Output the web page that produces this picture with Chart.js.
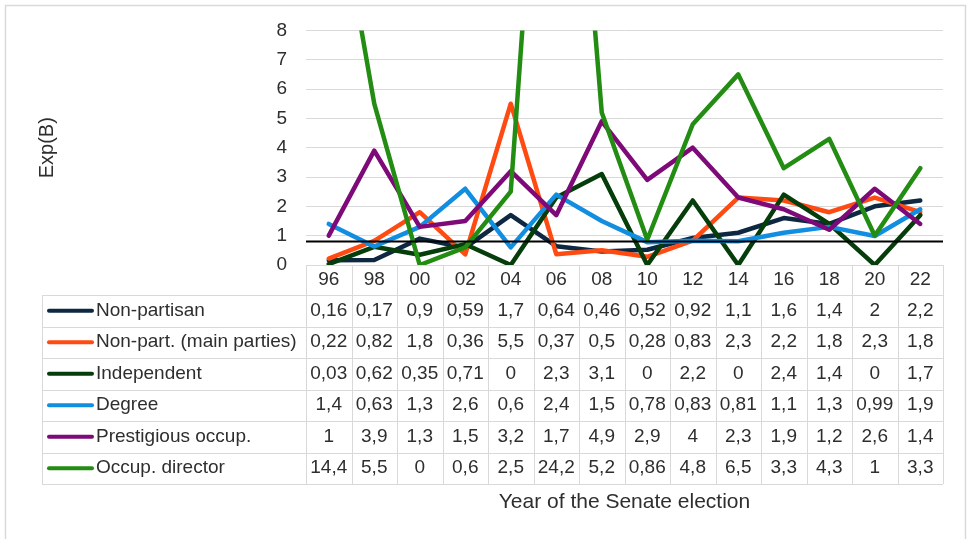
<!DOCTYPE html>
<html>
<head>
<meta charset="utf-8">
<script src="https://cdn.jsdelivr.net/npm/chart.js@4.4.1/dist/chart.umd.min.js"></script>
<style>
  html, body { margin: 0; padding: 0; background: #ffffff; }
  canvas { display: block; }
</style>
</head>
<body>
<canvas id="chart" width="967" height="539"></canvas>
<script>
// Election years (two-digit labels)
const years = ['96', '98', '00', '02', '04', '06', '08', '10', '12', '14', '16', '18', '20', '22'];

// Exp(B) per year for each variable
const nonPartisan   = [0.16, 0.17, 0.9, 0.59, 1.7, 0.64, 0.46, 0.52, 0.92, 1.1, 1.6, 1.4, 2, 2.2];
const nonPartMain   = [0.22, 0.82, 1.8, 0.36, 5.5, 0.37, 0.5, 0.28, 0.83, 2.3, 2.2, 1.8, 2.3, 1.8];
const independent   = [0.03, 0.62, 0.35, 0.71, 0, 2.3, 3.1, 0, 2.2, 0, 2.4, 1.4, 0, 1.7];
const degree        = [1.4, 0.63, 1.3, 2.6, 0.6, 2.4, 1.5, 0.78, 0.83, 0.81, 1.1, 1.3, 0.99, 1.9];
const prestigious   = [1, 3.9, 1.3, 1.5, 3.2, 1.7, 4.9, 2.9, 4, 2.3, 1.9, 1.2, 2.6, 1.4];
const occupDirector = [14.4, 5.5, 0, 0.6, 2.5, 24.2, 5.2, 0.86, 4.8, 6.5, 3.3, 4.3, 1, 3.3];

const seriesNames = ['Non-partisan', 'Non-part. (main parties)', 'Independent', 'Degree', 'Prestigious occup.', 'Occup. director'];
const seriesValues = [nonPartisan, nonPartMain, independent, degree, prestigious, occupDirector];

// Value axis range and the reference level drawn as a black rule
const yMin = 0;
const yMax = 8;
const yStep = 1;
const referenceLevel = 0.8;

// ---- styling ----
const seriesColors = ['#0e2841', '#ff4a12', '#053d0b', '#128ee0', '#7d0a78', '#238c12'];
const FONT = "'Liberation Sans', Arial, sans-serif";
const TEXT = '#2e2e2e';
const GRID = '#d9d9d9';
const TEXT_SIZE = 19;

// ---- layout (pixels) ----
const LAYOUT_LEFT = 35;
const PLOT_LEFT = 306;
const PLOT_TOP = 29;
const PLOT_RIGHT = 943;
const PLOT_BOTTOM = 265;
const TABLE_LEFT = 42;
const HEADER_BOTTOM = 295;
const ROW_H = 31.5;

const fmt = v => String(v).replace('.', ',');

// Page frame behind the chart
const framePlugin = {
  id: 'frame',
  beforeDraw(chart) {
    const ctx = chart.ctx;
    ctx.save();
    ctx.fillStyle = '#ffffff';
    ctx.fillRect(0, 0, chart.width, chart.height);
    ctx.strokeStyle = '#d9d9d9';
    ctx.lineWidth = 1.5;
    ctx.strokeRect(5.5, 5.5, 960, chart.height + 20);
    ctx.restore();
  }
};

// Black reference rule across the plot
const referencePlugin = {
  id: 'referenceRule',
  afterDatasetsDraw(chart) {
    const { ctx, chartArea, scales } = chart;
    const y = scales.y.getPixelForValue(referenceLevel);
    ctx.save();
    ctx.strokeStyle = '#000000';
    ctx.lineWidth = 2;
    ctx.beginPath();
    ctx.moveTo(chartArea.left, y);
    ctx.lineTo(chartArea.right, y);
    ctx.stroke();
    ctx.restore();
  }
};

// Data table under the plot, aligned to the category axis
const tablePlugin = {
  id: 'dataTable',
  afterDraw(chart) {
    const { ctx, chartArea, scales } = chart;
    const x = scales.x;
    const half = (x.getPixelForValue(1) - x.getPixelForValue(0)) / 2;
    const top = chartArea.bottom;
    const rows = seriesNames.length;
    const bottom = HEADER_BOTTOM + rows * ROW_H;
    const crisp = v => Math.round(v) + 0.5;

    ctx.save();
    ctx.strokeStyle = GRID;
    ctx.lineWidth = 1;
    ctx.beginPath();
    // horizontal rules
    ctx.moveTo(chartArea.left, crisp(top));
    ctx.lineTo(chartArea.right, crisp(top));
    for (let r = 0; r <= rows; r++) {
      const yy = crisp(HEADER_BOTTOM + r * ROW_H);
      ctx.moveTo(TABLE_LEFT, yy);
      ctx.lineTo(chartArea.right, yy);
    }
    // vertical rules
    ctx.moveTo(crisp(TABLE_LEFT), HEADER_BOTTOM);
    ctx.lineTo(crisp(TABLE_LEFT), bottom);
    for (let i = 0; i <= years.length; i++) {
      const xx = crisp(x.getPixelForValue(0) - half + i * 2 * half);
      ctx.moveTo(xx, top);
      ctx.lineTo(xx, bottom);
    }
    ctx.stroke();

    ctx.font = TEXT_SIZE + 'px ' + FONT;
    ctx.textBaseline = 'middle';
    seriesNames.forEach((name, r) => {
      const cy = HEADER_BOTTOM + (r + 0.5) * ROW_H;
      // legend key
      ctx.strokeStyle = seriesColors[r];
      ctx.lineWidth = 4;
      ctx.lineCap = 'round';
      ctx.beginPath();
      ctx.moveTo(49, cy);
      ctx.lineTo(92, cy);
      ctx.stroke();
      ctx.fillStyle = TEXT;
      ctx.textAlign = 'left';
      ctx.fillText(name, 96, cy);
      // values
      ctx.textAlign = 'center';
      seriesValues[r].forEach((v, i) => {
        ctx.fillText(fmt(v), x.getPixelForValue(i), cy);
      });
    });
    ctx.restore();
  }
};

new Chart(document.getElementById('chart'), {
  type: 'line',
  data: {
    labels: years,
    datasets: seriesNames.map((name, i) => ({
      label: name,
      data: seriesValues[i],
      borderColor: seriesColors[i],
      backgroundColor: seriesColors[i],
      borderWidth: 4.5,
      borderJoinStyle: 'round',
      borderCapStyle: 'round',
      pointRadius: 0,
      tension: 0,
      fill: false,
      order: seriesNames.length - i
    }))
  },
  options: {
    responsive: false,
    animation: false,
    devicePixelRatio: 1,
    layout: { padding: { left: LAYOUT_LEFT, top: PLOT_TOP, right: 967 - PLOT_RIGHT, bottom: 0 } },
    plugins: {
      legend: { display: false },
      tooltip: { enabled: false }
    },
    scales: {
      x: {
        offset: true,
        grid: { display: false, drawTicks: false },
        border: { display: false },
        ticks: {
          autoSkip: false,
          maxRotation: 0,
          padding: 3,
          color: TEXT,
          font: { family: FONT, size: TEXT_SIZE }
        },
        title: {
          display: true,
          text: 'Year of the Senate election',
          color: TEXT,
          font: { family: FONT, size: 21 },
          padding: { top: 0, bottom: 24 }
        },
        afterFit(scale) { scale.height = scale.chart.height - PLOT_BOTTOM; }
      },
      y: {
        min: yMin,
        max: yMax,
        grid: { color: GRID, lineWidth: 1, drawTicks: false },
        border: { display: false },
        ticks: {
          stepSize: yStep,
          padding: 19,
          color: TEXT,
          font: { family: FONT, size: TEXT_SIZE }
        },
        title: {
          display: true,
          text: 'Exp(B)',
          color: TEXT,
          font: { family: FONT, size: 20 },
          padding: { top: 0, bottom: 0 }
        },
        afterFit(scale) { scale.width = PLOT_LEFT - LAYOUT_LEFT; }
      }
    }
  },
  plugins: [framePlugin, referencePlugin, tablePlugin]
});
</script>
</body>
</html>
